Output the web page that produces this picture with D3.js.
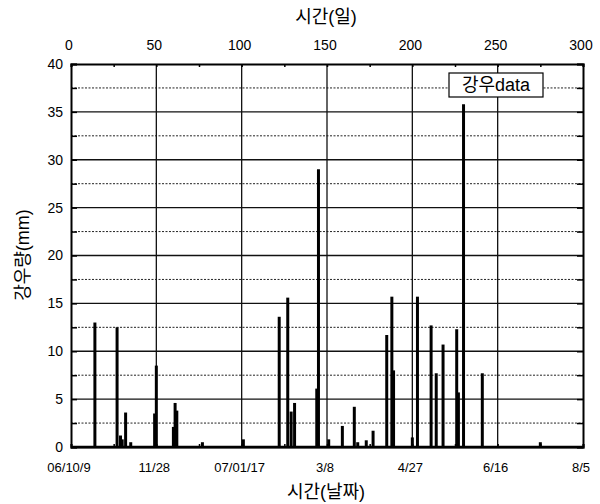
<!DOCTYPE html>
<html>
<head>
<meta charset="utf-8">
<script src="https://cdn.jsdelivr.net/npm/d3@7"></script>
<style>
    body { margin: 0; background: #fff; }
    text { font-family: "Liberation Sans", "Noto Sans CJK KR", sans-serif; fill: #000; }
</style>
</head>
<body>
<script>
// rainfall spikes: day since 06/10/9 and rain (mm)
var days = [14, 27, 29, 30, 32, 35, 49, 50, 60, 61, 62, 77, 101,
            122, 127, 129, 131, 144, 145, 151, 159, 166, 168, 173, 177,
            185, 188, 189, 200, 203, 211, 214, 218, 226, 227, 230, 241, 275];
var rain = [13.0, 12.5, 1.2, 0.8, 3.6, 0.5, 3.5, 8.5, 2.1, 4.6, 3.8, 0.5, 0.8,
            13.6, 15.6, 3.7, 4.6, 6.1, 29.0, 0.8, 2.2, 4.2, 0.5, 0.7, 1.7,
            11.7, 15.7, 8.0, 1.0, 15.7, 12.7, 7.7, 10.7, 12.3, 5.7, 35.8, 7.7, 0.5];

var dayTicks = [0, 50, 100, 150, 200, 250, 300];
var dateLabels = ['06/10/9', '11/28', '07/01/17', '3/8', '4/27', '6/16', '8/5'];
var rainTicks = [0, 5, 10, 15, 20, 25, 30, 35, 40];

window.document.addEventListener('DOMContentLoaded', init, false);

function init() {
    var svg = d3.select('body').append('svg')
        .attr('width', 600)
        .attr('height', 504);

    var left = 71, right = 583, top = 64, bottom = 447;

    var x = d3.scaleLinear().domain([0, 300]).range([left, right]);
    var y = d3.scaleLinear().domain([0, 40]).range([bottom, top]);

    drawGrid(svg, x, y);
    drawBars(svg, x, y);
    drawAxes(svg, x, y, left, right, top, bottom);
    drawLabels(svg, x, y);
}

function drawGrid(svg, x, y) {
    var g = svg.append('g');
    d3.range(2.5, 40, 2.5).forEach(function(v) {
        var solid = v % 5 === 0;
        g.append('line')
            .attr('x1', x(0)).attr('x2', x(300))
            .attr('y1', y(v)).attr('y2', y(v))
            .attr('stroke', solid ? '#111' : '#222')
            .attr('stroke-width', solid ? 1.3 : 1)
            .attr('stroke-dasharray', solid ? null : '2,1.5');
    });
    d3.range(50, 300, 50).forEach(function(v) {
        g.append('line')
            .attr('x1', x(v)).attr('x2', x(v))
            .attr('y1', y(0)).attr('y2', y(40))
            .attr('stroke', '#111')
            .attr('stroke-width', 1.3);
    });
}

function drawBars(svg, x, y) {
    svg.append('g').selectAll('line')
        .data(days)
        .enter()
            .append('line')
            .attr('x1', (d) => x(d))
            .attr('x2', (d) => x(d))
            .attr('y1', y(0))
            .attr('y2', (d, i) => y(rain[i]))
            .attr('stroke', '#000')
            .attr('stroke-width', 3);
}

function drawAxes(svg, x, y, left, right, top, bottom) {
    var major = 6, minor = 3;

    var topAxis = d3.axisTop(x).tickValues(d3.range(0, 301, 25))
        .tickSize(-minor).tickFormat('');
    svg.append('g').attr('transform', `translate(0,${top})`).call(topAxis);

    var bottomAxis = d3.axisBottom(x).tickValues(d3.range(0, 301, 25))
        .tickSize(-minor).tickFormat('');
    svg.append('g').attr('transform', `translate(0,${bottom})`).call(bottomAxis);

    var leftAxis = d3.axisLeft(y).tickValues(d3.range(0, 40.1, 2.5))
        .tickSize(-major).tickFormat('');
    svg.append('g').attr('transform', `translate(${left},0)`).call(leftAxis);

    var rightAxis = d3.axisRight(y).tickValues(d3.range(0, 40.1, 2.5))
        .tickSize(-major).tickFormat('');
    svg.append('g').attr('transform', `translate(${right},0)`).call(rightAxis);

    svg.selectAll('.domain').attr('stroke', '#000').attr('stroke-width', 2);
    svg.selectAll('.tick line').attr('stroke', '#000').attr('stroke-width', 1.5);

    svg.append('line')
        .attr('x1', left).attr('x2', right)
        .attr('y1', bottom).attr('y2', bottom)
        .attr('stroke', '#000').attr('stroke-width', 2.5);
}

function drawLabels(svg, x, y) {
    svg.append('g').selectAll('text')
        .data(dayTicks)
        .enter()
            .append('text')
            .attr('x', (d) => x(d) - 2)
            .attr('y', 50)
            .attr('font-size', 14)
            .style('text-anchor', 'middle')
            .text((d) => d);

    svg.append('g').selectAll('text')
        .data(dayTicks)
        .enter()
            .append('text')
            .attr('x', (d) => x(d) - 2)
            .attr('y', 472)
            .attr('font-size', 13)
            .style('text-anchor', 'middle')
            .text((d, i) => dateLabels[i]);

    svg.append('g').selectAll('text')
        .data(rainTicks)
        .enter()
            .append('text')
            .attr('x', 63)
            .attr('y', (d) => y(d))
            .attr('dy', '.35em')
            .attr('font-size', 14)
            .style('text-anchor', 'end')
            .text((d) => d);

    svg.append('text')
        .attr('x', 326).attr('y', 23)
        .attr('font-size', 18)
        .style('text-anchor', 'middle')
        .text('시간(일)');

    svg.append('text')
        .attr('x', 326).attr('y', 498)
        .attr('font-size', 18)
        .style('text-anchor', 'middle')
        .text('시간(날짜)');

    svg.append('text')
        .attr('transform', 'translate(29,255) rotate(-90)')
        .attr('font-size', 18)
        .style('text-anchor', 'middle')
        .text('강우량(mm)');

    var legend = svg.append('g');
    legend.append('rect')
        .attr('x', 449).attr('y', 73)
        .attr('width', 94).attr('height', 24)
        .attr('fill', '#fff')
        .attr('stroke', '#000')
        .attr('stroke-width', 1.2);
    legend.append('text')
        .attr('x', 496).attr('y', 91)
        .attr('font-size', 18)
        .style('text-anchor', 'middle')
        .text('강우data');
}
</script>
</body>
</html>
